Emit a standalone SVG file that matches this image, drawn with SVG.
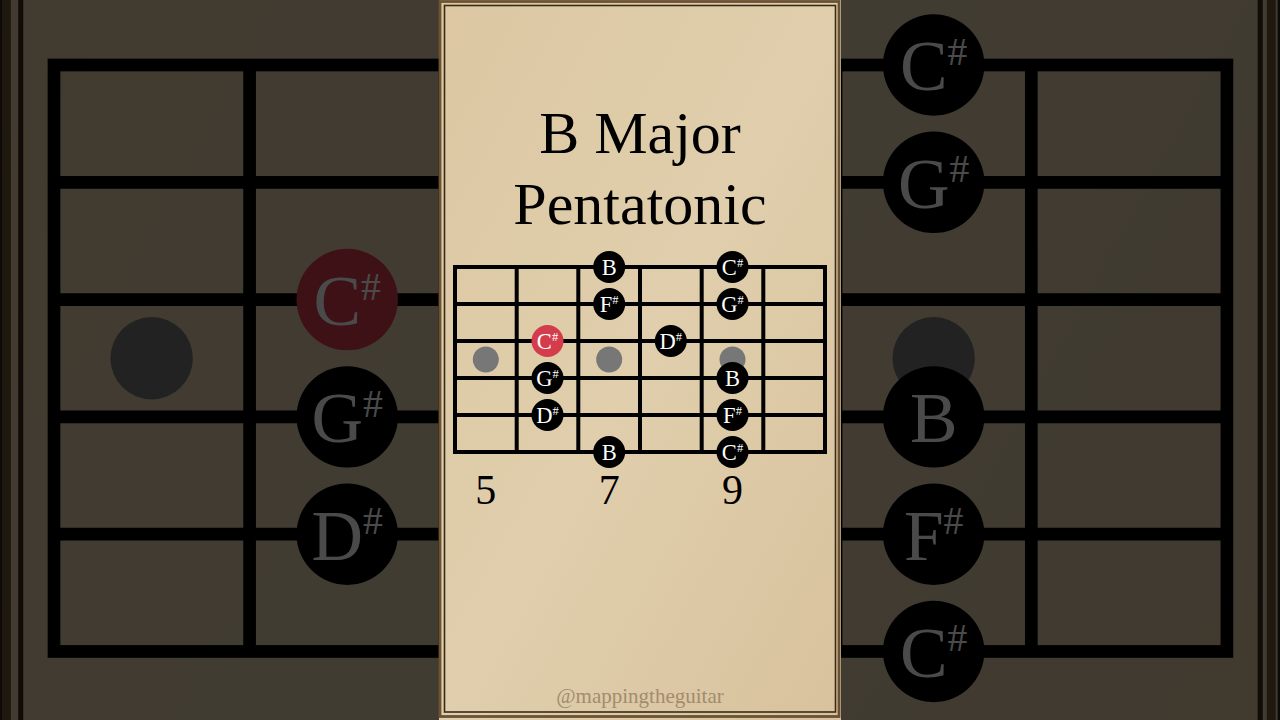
<svg xmlns="http://www.w3.org/2000/svg" xmlns:xlink="http://www.w3.org/1999/xlink" width="1280" height="720" viewBox="0 0 1280 720">
<style>
.ser{font-family:"Liberation Serif","Times New Roman",serif;}
.dot{fill:#000;}
.red{fill:#d43c4c;}
.inlay{fill:#777777;}
.lbl{font-family:"Liberation Serif","Times New Roman",serif;font-size:22.5px;fill:#fff;text-anchor:middle;}
.sh{font-size:12.5px;}
.grid{stroke:#000;stroke-width:4;fill:none;}
.title{font-family:"Liberation Serif","Times New Roman",serif;font-size:60px;fill:#000;text-anchor:middle;}
.fret{font-family:"Liberation Serif","Times New Roman",serif;font-size:42px;fill:#000;text-anchor:middle;}
</style>
<defs>
<linearGradient id="paper" x1="0" y1="0" x2="1" y2="1">
<stop offset="0" stop-color="#dcc7a2"/>
<stop offset="0.5" stop-color="#e0ceac"/>
<stop offset="1" stop-color="#d8c29d"/>
</linearGradient>
</defs>
<rect x="0" y="0" width="1280" height="720" fill="#2e2820"/>
<use xlink:href="#panel" href="#panel" transform="translate(54,65) scale(3.17) translate(-455,-267)"/>
<rect x="0" y="0" width="1280" height="720" fill="#000" opacity="0.71"/>
<g id="panel">
<rect x="439" y="-5" width="402" height="730" fill="url(#paper)"/>
<rect x="440" y="1.5" width="399" height="715" fill="none" stroke="#6b5233" stroke-width="2.8"/>
<rect x="444.5" y="5.5" width="391" height="706.5" fill="none" stroke="#3a2b19" stroke-width="1.6"/>
<g id="title">
<text class="title" x="640" y="153">B Major</text>
<text class="title" x="640" y="224">Pentatonic</text>
</g>
<g id="fretboard-grid">
<rect class="grid" x="455" y="267" width="370" height="185"/>
<line class="grid" x1="516.7" y1="267" x2="516.7" y2="452"/>
<line class="grid" x1="578.3" y1="267" x2="578.3" y2="452"/>
<line class="grid" x1="640" y1="267" x2="640" y2="452"/>
<line class="grid" x1="701.7" y1="267" x2="701.7" y2="452"/>
<line class="grid" x1="763.3" y1="267" x2="763.3" y2="452"/>
<line class="grid" x1="455" y1="304" x2="825" y2="304"/>
<line class="grid" x1="455" y1="341" x2="825" y2="341"/>
<line class="grid" x1="455" y1="378" x2="825" y2="378"/>
<line class="grid" x1="455" y1="415" x2="825" y2="415"/>
</g>
<g id="inlays">
<circle class="inlay" cx="485.8" cy="359.5" r="13"/>
<circle class="inlay" cx="609.2" cy="359.5" r="13"/>
<circle class="inlay" cx="732.5" cy="359.5" r="13"/>
</g>
<g id="note-B-top"><circle class="dot" cx="609.2" cy="267" r="16"/><text class="lbl" x="609.2" y="275">B</text></g>
<g id="note-Fs-2"><circle class="dot" cx="609.2" cy="304" r="16"/><text class="lbl" x="609.2" y="312">F<tspan class="sh" dy="-8">#</tspan></text></g>
<g id="note-Cs-root"><circle class="red" cx="547.5" cy="341" r="16"/><text class="lbl" x="547.5" y="349">C<tspan class="sh" dy="-8">#</tspan></text></g>
<g id="note-Ds-3"><circle class="dot" cx="670.8" cy="341" r="16"/><text class="lbl" x="670.8" y="349">D<tspan class="sh" dy="-8">#</tspan></text></g>
<g id="note-Gs-4"><circle class="dot" cx="547.5" cy="378" r="16"/><text class="lbl" x="547.5" y="386">G<tspan class="sh" dy="-8">#</tspan></text></g>
<g id="note-Ds-5"><circle class="dot" cx="547.5" cy="415" r="16"/><text class="lbl" x="547.5" y="423">D<tspan class="sh" dy="-8">#</tspan></text></g>
<g id="note-B-bottom"><circle class="dot" cx="609.2" cy="452" r="16"/><text class="lbl" x="609.2" y="460">B</text></g>
<g id="note-Cs-top"><circle class="dot" cx="732.5" cy="267" r="16"/><text class="lbl" x="732.5" y="275">C<tspan class="sh" dy="-8">#</tspan></text></g>
<g id="note-Gs-2"><circle class="dot" cx="732.5" cy="304" r="16"/><text class="lbl" x="732.5" y="312">G<tspan class="sh" dy="-8">#</tspan></text></g>
<g id="note-B-4"><circle class="dot" cx="732.5" cy="378" r="16"/><text class="lbl" x="732.5" y="386">B</text></g>
<g id="note-Fs-5"><circle class="dot" cx="732.5" cy="415" r="16"/><text class="lbl" x="732.5" y="423">F<tspan class="sh" dy="-8">#</tspan></text></g>
<g id="note-Cs-bottom"><circle class="dot" cx="732.5" cy="452" r="16"/><text class="lbl" x="732.5" y="460">C<tspan class="sh" dy="-8">#</tspan></text></g>
<g id="fret-numbers">
<text class="fret" x="485.8" y="504">5</text>
<text class="fret" x="609.2" y="504">7</text>
<text class="fret" x="732.5" y="504">9</text>
</g>
<text id="watermark" class="ser" x="640" y="703" font-size="21" fill="#a28c6e" text-anchor="middle">@mappingtheguitar</text>
</g>
</svg>
